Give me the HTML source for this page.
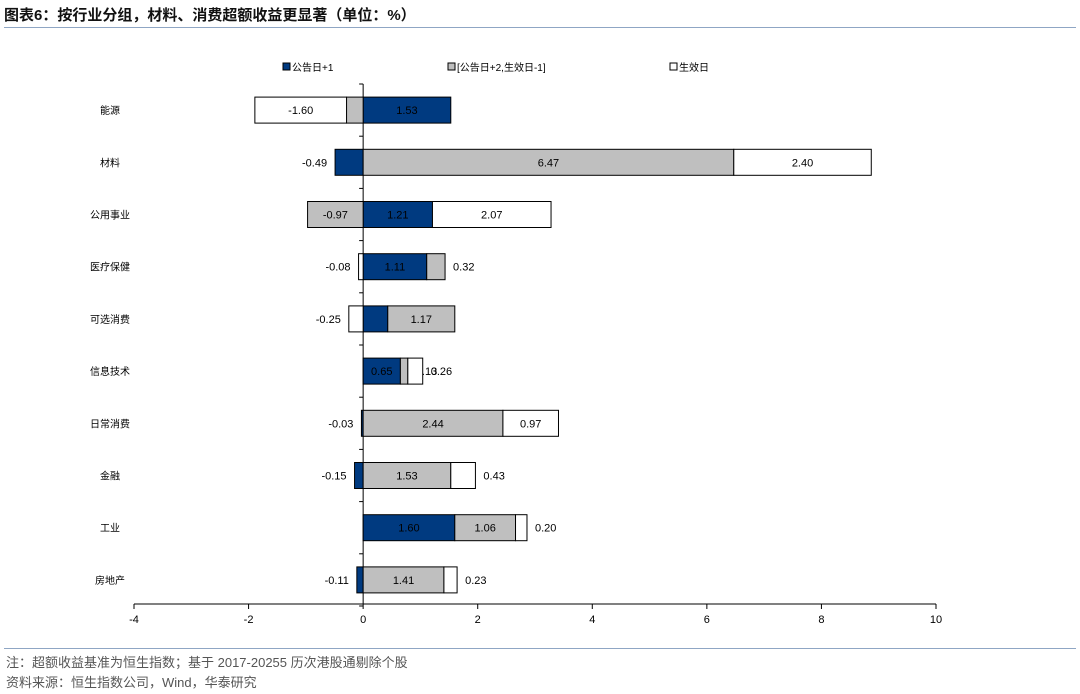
<!DOCTYPE html>
<html><head><meta charset="utf-8"><style>
body{margin:0;background:#fff;font-family:"Liberation Sans","Noto Sans CJK SC",sans-serif;}
#wrap{position:relative;width:1080px;height:694px;overflow:hidden;}
.title{position:absolute;left:4px;top:4px;font-size:15px;font-weight:bold;color:#111;}
.rule{position:absolute;left:4px;width:1072px;height:1px;background:#8fa6c4;}
.note{position:absolute;left:6px;font-size:13px;color:#555;}
</style></head><body>
<div id="wrap">
<div class="title">图表6：按行业分组，材料、消费超额收益更显著（单位：%）</div>
<div class="rule" style="top:27px"></div>
<svg id="chart" width="1080" height="694" style="position:absolute;left:0;top:0"></svg>
<div class="rule" style="top:648px"></div>
<div class="note" style="top:652px">注：超额收益基准为恒生指数；基于 2017-20255 历次港股通剔除个股</div>
<div class="note" style="top:672px">资料来源：恒生指数公司，Wind，华泰研究</div>
</div>
<script>
const categories=["能源","材料","公用事业","医疗保健","可选消费","信息技术","日常消费","金融","工业","房地产"];
const day1=[1.53,-0.49,1.21,1.11,0.43,0.65,-0.03,-0.15,1.60,-0.11];
const mid=[-0.29,6.47,-0.97,0.32,1.17,0.13,2.44,1.53,1.06,1.41];
const eff=[-1.60,2.40,2.07,-0.08,-0.25,0.26,0.97,0.43,0.20,0.23];
const xTicks=[-4,-2,0,2,4,6,8,10];
const seriesNames=["公告日+1","[公告日+2,生效日-1]","生效日"];
const colors=["#003a80","#bfbfbf","#ffffff"];
const NS="http://www.w3.org/2000/svg";
const svg=document.getElementById("chart");
const x0=134,x1=936,xmin=-4,xmax=10;
const X=v=>x0+(v-xmin)/(xmax-xmin)*(x1-x0);
const rowTop=84,rowH=52.2;
const Y=i=>rowTop+rowH*(i+0.5);
function el(t,a){const e=document.createElementNS(NS,t);for(const k in a)e.setAttribute(k,a[k]);svg.appendChild(e);return e;}
// axis
let ax=el("line",{x1:x0,x2:x1,y1:604,y2:604,stroke:"#000"});


xTicks.forEach(t=>{
 let l=el("line",{x1:X(t),x2:X(t),y1:604,y2:609,stroke:"#000"});
 
 
 let tx=el("text",{x:X(t),y:623,"font-size":11,"text-anchor":"middle",fill:"#000"});
 tx.textContent=t;
 
 
});
let va=el("line",{x1:X(0),x2:X(0),y1:84,y2:604,stroke:"#000"});


for(let i=0;i<=categories.length;i++){
 let t=el("line",{x1:X(0)-4,x2:X(0),y1:rowTop+rowH*i,y2:rowTop+rowH*i,stroke:"#000"});
 
 
}
const series=[day1,mid,eff];
categories.forEach((c,i)=>{
 const y=Y(i);
 let ct=el("text",{x:110,y:y+4,"font-size":10,"text-anchor":"middle",fill:"#000"});
 ct.textContent=c;
 
 
 let pos=0,neg=0;
 series.forEach((s,k)=>{
  const v=s[i];let a,b;
  if(v>=0){a=pos;b=pos+v;pos=b;}else{a=neg+v;b=neg;neg=a;}
  const xa=X(a),xb=X(b),w=xb-xa;
  let r=el("rect",{x:xa,y:y-13,width:Math.max(w,0.5),height:26,fill:colors[k],stroke:"#000","stroke-width":1});
  
  
  let lx,anchor="middle";
  if(w>=30){lx=(xa+xb)/2;}
  else if(v>=0){lx=xb+8;anchor="start";}
  else{lx=xa-8;anchor="end";}
  let lt=el("text",{x:lx,y:y+4,"font-size":11,"text-anchor":anchor,fill:"#000"});
  lt.textContent=v.toFixed(2);
  
  
 });
});
// legend
const lg=[[283,"公告日+1"],[448,"[公告日+2,生效日-1]"],[670,"生效日"]];
lg.forEach((g,k)=>{
 let r=el("rect",{x:g[0],y:63,width:7,height:7,fill:colors[k],stroke:"#000"});
 
 
 let t=el("text",{x:g[0]+9,y:71,"font-size":10,fill:"#000"});
 t.textContent=seriesNames[k];
 
 
});
</script>
</body></html>
